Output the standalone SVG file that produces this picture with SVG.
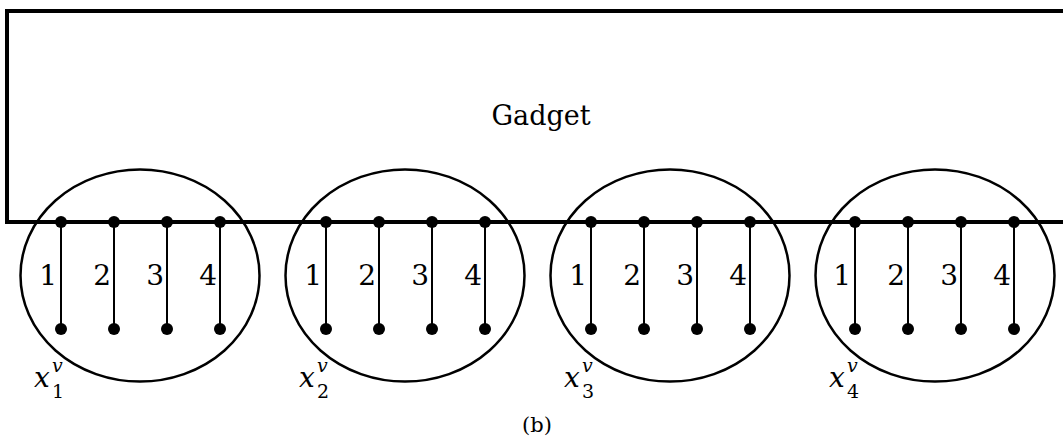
<svg xmlns="http://www.w3.org/2000/svg" width="1063" height="439" viewBox="0 0 1063 439">
<style>
.frame{fill:none;stroke:#000;stroke-width:4}
.ell{fill:none;stroke:#000;stroke-width:2.5}
.edge{stroke:#000;stroke-width:2}
.dot{fill:#000}
.t{font-family:"DejaVu Serif",serif;fill:#000}
.num{font-size:28px;text-anchor:end}
.var{font-size:28px;font-style:italic}
.sm{font-size:19px}
</style>
<rect width="1063" height="439" fill="#fff"/>
<g id="gadget">
<path class="frame" d="M1063,11 H7 V222 H1063"/>
<text class="t" x="541" y="125" font-size="27" text-anchor="middle">Gadget</text>
</g>
<g id="connectors">
<line class="edge" x1="61" y1="222" x2="61" y2="329"/>
<line class="edge" x1="114" y1="222" x2="114" y2="329"/>
<line class="edge" x1="167" y1="222" x2="167" y2="329"/>
<line class="edge" x1="220" y1="222" x2="220" y2="329"/>
<line class="edge" x1="326" y1="222" x2="326" y2="329"/>
<line class="edge" x1="379" y1="222" x2="379" y2="329"/>
<line class="edge" x1="432" y1="222" x2="432" y2="329"/>
<line class="edge" x1="485" y1="222" x2="485" y2="329"/>
<line class="edge" x1="591" y1="222" x2="591" y2="329"/>
<line class="edge" x1="644" y1="222" x2="644" y2="329"/>
<line class="edge" x1="697" y1="222" x2="697" y2="329"/>
<line class="edge" x1="750" y1="222" x2="750" y2="329"/>
<line class="edge" x1="855" y1="222" x2="855" y2="329"/>
<line class="edge" x1="908" y1="222" x2="908" y2="329"/>
<line class="edge" x1="961" y1="222" x2="961" y2="329"/>
<line class="edge" x1="1014" y1="222" x2="1014" y2="329"/>
</g>
<g id="x1">
<ellipse class="ell" cx="140" cy="275.5" rx="119.5" ry="106"/>
<circle class="dot" cx="61" cy="222" r="6"/><circle class="dot" cx="114" cy="222" r="6"/><circle class="dot" cx="167" cy="222" r="6"/><circle class="dot" cx="220" cy="222" r="6"/>
<circle class="dot" cx="61" cy="329" r="6"/><circle class="dot" cx="114" cy="329" r="6"/><circle class="dot" cx="167" cy="329" r="6"/><circle class="dot" cx="220" cy="329" r="6"/>
<text class="t num" x="57" y="285">1</text><text class="t num" x="111" y="285">2</text><text class="t num" x="164" y="285">3</text><text class="t num" x="217" y="285">4</text>
<text class="t var" x="34" y="387">x</text><text class="t var sm" x="52" y="372">v</text><text class="t sm" x="52" y="398">1</text>
</g>
<g id="x2">
<ellipse class="ell" cx="405" cy="275.5" rx="119.5" ry="106"/>
<circle class="dot" cx="326" cy="222" r="6"/><circle class="dot" cx="379" cy="222" r="6"/><circle class="dot" cx="432" cy="222" r="6"/><circle class="dot" cx="485" cy="222" r="6"/>
<circle class="dot" cx="326" cy="329" r="6"/><circle class="dot" cx="379" cy="329" r="6"/><circle class="dot" cx="432" cy="329" r="6"/><circle class="dot" cx="485" cy="329" r="6"/>
<text class="t num" x="322" y="285">1</text><text class="t num" x="376" y="285">2</text><text class="t num" x="429" y="285">3</text><text class="t num" x="482" y="285">4</text>
<text class="t var" x="299" y="387">x</text><text class="t var sm" x="317" y="372">v</text><text class="t sm" x="317" y="398">2</text>
</g>
<g id="x3">
<ellipse class="ell" cx="670" cy="275.5" rx="119.5" ry="106"/>
<circle class="dot" cx="591" cy="222" r="6"/><circle class="dot" cx="644" cy="222" r="6"/><circle class="dot" cx="697" cy="222" r="6"/><circle class="dot" cx="750" cy="222" r="6"/>
<circle class="dot" cx="591" cy="329" r="6"/><circle class="dot" cx="644" cy="329" r="6"/><circle class="dot" cx="697" cy="329" r="6"/><circle class="dot" cx="750" cy="329" r="6"/>
<text class="t num" x="587" y="285">1</text><text class="t num" x="641" y="285">2</text><text class="t num" x="694" y="285">3</text><text class="t num" x="747" y="285">4</text>
<text class="t var" x="564" y="387">x</text><text class="t var sm" x="582" y="372">v</text><text class="t sm" x="582" y="398">3</text>
</g>
<g id="x4">
<ellipse class="ell" cx="935" cy="275.5" rx="119.5" ry="106"/>
<circle class="dot" cx="855" cy="222" r="6"/><circle class="dot" cx="908" cy="222" r="6"/><circle class="dot" cx="961" cy="222" r="6"/><circle class="dot" cx="1014" cy="222" r="6"/>
<circle class="dot" cx="855" cy="329" r="6"/><circle class="dot" cx="908" cy="329" r="6"/><circle class="dot" cx="961" cy="329" r="6"/><circle class="dot" cx="1014" cy="329" r="6"/>
<text class="t num" x="851" y="285">1</text><text class="t num" x="905" y="285">2</text><text class="t num" x="958" y="285">3</text><text class="t num" x="1011" y="285">4</text>
<text class="t var" x="829" y="387">x</text><text class="t var sm" x="847" y="372">v</text><text class="t sm" x="847" y="398">4</text>
</g>
<text class="t" x="537" y="432" font-size="21" text-anchor="middle">(b)</text>
</svg>
